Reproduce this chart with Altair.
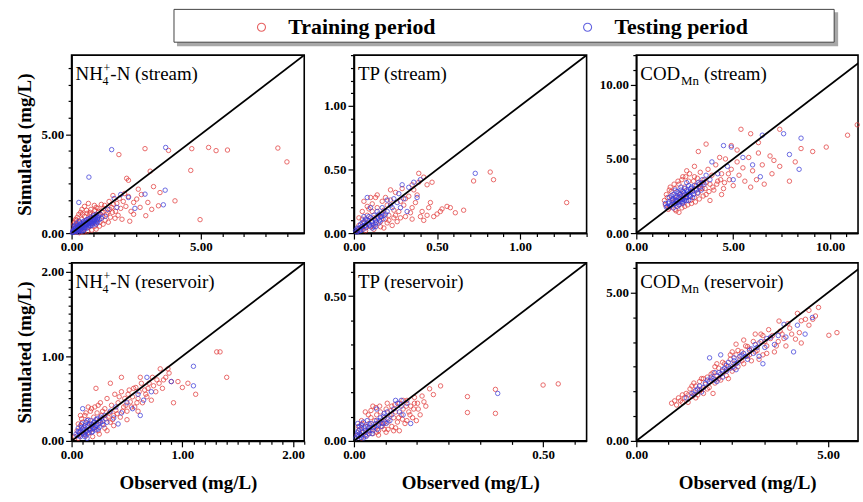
import altair as alt
import pandas as pd

FONT = "Liberation Serif"
PERIODS = ["Training period", "Testing period"]
COLORS = ["#e23b3b", "#3b3bd9"]

# ---------------- data: (observed, simulated) in mg/L ----------------
nh4_stream_train = [
    (0.05,0.10),(0.10,0.25),(0.15,0.05),(0.20,0.40),(0.25,0.15),(0.30,0.55),(0.35,0.30),(0.40,0.70),
    (0.45,0.20),(0.50,0.85),(0.55,0.45),(0.60,1.00),(0.65,0.30),(0.70,0.75),(0.75,1.20),(0.80,0.50),
    (0.85,0.95),(0.90,0.35),(0.95,1.30),(1.00,0.70),(1.05,1.10),(1.10,0.55),(1.15,1.45),(1.20,0.85),
    (1.25,1.25),(1.30,0.65),(1.40,1.05),(1.45,1.60),(1.50,0.80),(1.55,1.30),(1.60,1.90),(1.70,1.10),
    (1.75,1.50),(1.80,0.90),(1.85,1.75),(1.90,1.25),(2.00,1.60),(2.05,2.00),(2.10,1.35),(2.20,1.85),
    (2.30,1.10),(2.40,1.55),(0.12,0.55),(0.22,0.80),(0.35,1.05),(0.50,1.35),(0.18,0.65),(0.40,1.20),
    (0.65,1.50),(0.90,1.15),(1.83,3.97),(2.84,4.27),(3.75,4.18),(4.65,4.27),(5.30,4.33),(5.59,4.17),
    (6.03,4.20),(7.98,4.30),(8.33,3.60),(4.61,3.17),(3.04,3.13),(2.13,2.77),(2.20,2.67),(3.17,2.35),
    (3.42,2.05),(4.00,1.63),(3.36,1.38),(2.87,0.88),(4.97,0.68),(2.52,1.72),(2.58,2.22),(2.70,1.95),
    (2.95,1.55),(3.10,1.20),(2.65,1.30),(2.40,0.95),(1.95,0.70),(2.25,0.60),
    (0.08,0.45),(0.16,0.70),(0.28,0.95),(0.42,0.95),(0.58,1.15),(0.72,1.05),(0.88,1.40),(1.02,1.25),
    (1.18,1.05),(1.28,1.40),(1.35,0.95),(1.48,1.20),(1.62,1.45),(1.68,0.75),(1.22,0.45),(1.08,0.35),
    (0.95,0.20),(0.78,0.15),(0.62,0.10),(0.48,0.05),(0.30,0.02),(1.42,0.55),(1.58,1.05),(1.12,0.95),
    (0.70,0.95),
]
nh4_stream_test = [
    (0.05,0.05),(0.08,0.15),(0.12,0.10),(0.15,0.25),(0.18,0.08),(0.22,0.20),(0.25,0.35),(0.28,0.15),
    (0.32,0.28),(0.35,0.45),(0.38,0.22),(0.42,0.38),(0.45,0.55),(0.48,0.30),(0.52,0.48),(0.55,0.62),
    (0.58,0.40),(0.62,0.55),(0.65,0.72),(0.68,0.48),(0.72,0.62),(0.75,0.80),(0.78,0.55),(0.82,0.70),
    (0.85,0.88),(0.88,0.62),(0.92,0.78),(0.95,0.95),(1.00,0.72),(1.05,0.85),(1.10,0.95),(1.15,0.75),
    (0.10,0.35),(0.20,0.50),(0.30,0.60),(0.40,0.12),(0.50,0.20),(0.60,0.25),(0.70,0.35),(0.80,0.40),
    (0.90,0.50),(1.00,0.55),(0.15,0.40),(0.25,0.05),(0.35,0.10),(1.55,4.22),(3.64,4.33),(0.67,2.83),
    (3.62,2.17),(2.84,1.97),(3.55,1.43),(1.65,1.75),(1.40,1.20),(2.20,1.80),(1.90,1.95),(1.30,0.85),
    (1.75,1.30),(0.28,1.55),(2.45,1.25),
    (0.03,0.02),(0.06,0.12),(0.09,0.06),(0.11,0.18),(0.14,0.13),(0.17,0.30),(0.19,0.16),(0.23,0.28),
    (0.26,0.22),(0.29,0.40),(0.31,0.33),(0.34,0.18),(0.37,0.50),(0.39,0.35),(0.41,0.28),(0.44,0.45),
    (0.47,0.60),(0.49,0.40),(0.53,0.35),(0.56,0.52),(0.59,0.68),(0.61,0.45),(0.64,0.60),(0.67,0.40),
    (0.71,0.55),(0.74,0.70),(0.77,0.48),(0.81,0.62),(0.84,0.78),(0.87,0.55),(0.91,0.68),(0.94,0.85),
    (0.97,0.60),(1.02,0.80),(1.07,0.68),(0.20,0.10),(0.45,0.12),(0.55,0.28),(0.75,0.38),(0.95,0.45),
]
tp_stream_train = [
    (0.72,0.41),(0.82,0.48),(0.84,0.42),(1.28,0.24),(0.66,0.18),(0.56,0.21),(0.53,0.19),(0.50,0.15),
    (0.48,0.13),(0.45,0.20),(0.40,0.13),(0.42,0.10),(0.39,0.47),(0.38,0.30),(0.36,0.34),(0.33,0.29),
    (0.35,0.20),(0.30,0.22),(0.28,0.25),(0.27,0.17),(0.25,0.32),(0.24,0.18),(0.22,0.26),(0.21,0.14),
    (0.20,0.22),(0.19,0.11),(0.18,0.18),(0.17,0.25),(0.16,0.09),(0.15,0.14),(0.14,0.20),(0.13,0.07),
    (0.12,0.12),(0.11,0.17),(0.10,0.05),(0.09,0.10),(0.08,0.14),(0.07,0.04),(0.06,0.08),(0.05,0.11),
    (0.04,0.03),(0.03,0.06),(0.02,0.02),(0.44,0.38),(0.47,0.40),(0.31,0.13),(0.26,0.09),(0.23,0.06),
    (0.18,0.04),(0.05,0.17),(0.03,0.12),(0.09,0.19),(0.11,0.23),(0.13,0.28),(0.08,0.21),(0.21,0.10),
    (0.34,0.16),(0.29,0.35),
    (0.06,0.25),(0.10,0.28),(0.14,0.30),(0.17,0.15),(0.19,0.28),(0.22,0.34),(0.25,0.14),(0.28,0.12),
    (0.31,0.27),(0.35,0.11),(0.37,0.24),(0.41,0.17),(0.44,0.14),(0.46,0.24),(0.52,0.17),(0.58,0.20),
    (0.61,0.16),(0.35,0.38),(0.39,0.40),(0.42,0.44),(0.07,0.02),(0.12,0.03),(0.16,0.05),(0.20,0.08),
    (0.24,0.12),
]
tp_stream_test = [
    (0.73,0.47),(0.40,0.42),(0.36,0.40),(0.33,0.36),(0.29,0.38),(0.27,0.31),(0.24,0.27),(0.22,0.22),
    (0.20,0.26),(0.19,0.15),(0.17,0.20),(0.16,0.13),(0.14,0.17),(0.13,0.10),(0.12,0.14),(0.11,0.09),
    (0.10,0.12),(0.09,0.07),(0.08,0.10),(0.07,0.06),(0.06,0.09),(0.05,0.05),(0.04,0.07),(0.03,0.03),
    (0.02,0.04),(0.08,0.28),(0.10,0.20),(0.06,0.13),(0.15,0.08),(0.28,0.20),(0.32,0.17),(0.38,0.28),
    (0.30,0.27),(0.12,0.05),(0.04,0.02),(0.02,0.01),
    (0.010,0.020),(0.015,0.010),(0.025,0.035),(0.035,0.020),(0.045,0.050),(0.055,0.030),(0.065,0.060),
    (0.075,0.045),(0.085,0.080),(0.095,0.060),(0.105,0.090),(0.115,0.070),(0.125,0.110),(0.135,0.085),
    (0.145,0.120),(0.155,0.100),(0.165,0.130),(0.175,0.110),(0.050,0.080),(0.070,0.110),(0.090,0.130),
    (0.110,0.040),(0.130,0.050),(0.150,0.150),(0.180,0.140),(0.200,0.170),(0.230,0.200),(0.260,0.240),
]
cod_stream_train = [
    (1.5,1.9),(1.6,2.4),(1.7,1.7),(1.8,2.8),(1.9,2.1),(2.0,1.6),(2.0,3.0),(2.1,2.5),(2.2,1.9),(2.2,3.3),
    (2.3,2.7),(2.4,2.1),(2.5,3.1),(2.5,1.8),(2.6,2.5),(2.7,3.5),(2.8,2.2),(2.9,2.9),(3.0,3.8),(3.0,2.4),
    (3.1,3.2),(3.2,2.7),(3.3,4.1),(3.4,3.0),(3.5,3.6),(3.6,2.6),(3.7,4.3),(3.8,3.3),(3.9,3.9),(4.0,2.9),
    (4.1,4.6),(4.2,3.5),(4.4,4.0),(4.5,3.0),(4.6,5.0),(4.8,3.6),(4.9,4.3),(5.0,3.2),(5.2,4.8),(5.3,3.9),
    (5.5,4.4),(5.6,3.5),(5.8,5.1),(6.0,4.2),(6.2,3.6),(6.3,5.4),(6.5,4.6),(6.6,3.3),(6.9,5.2),(7.0,4.0),
    (7.4,4.5),(7.9,3.5),(8.2,4.8),(8.5,5.7),(9.1,5.5),(9.8,5.8),(10.9,6.6),(11.4,7.3),(5.4,7.0),(5.9,6.7),
    (7.4,7.0),(3.6,6.0),(3.2,5.5),(4.9,5.9),(5.2,5.6),(6.3,6.1),(7.1,4.9),(4.3,5.1),(2.6,4.2),(2.4,3.8),
    (3.0,4.5),(1.7,2.9),(2.2,1.4),(4.4,2.6),(5.9,3.1),(3.8,2.2),
    (1.45,2.2),(1.55,2.6),(1.65,1.6),(1.75,3.1),(1.95,3.3),(2.15,3.5),(2.35,3.6),(2.55,3.8),(2.75,4.0),
    (2.95,3.5),(3.15,3.7),(3.35,3.4),(3.55,3.0),(3.75,2.8),(3.95,3.1),(4.15,3.3),(4.35,3.6),(4.55,3.4),
    (4.75,4.0),(2.05,1.5),(2.35,1.7),(2.65,1.9),(2.85,2.0),(3.05,2.1),(3.25,2.3),(3.45,2.5),(1.85,2.3),
    (2.45,2.5),(3.3,3.0),(3.6,3.4),
]
cod_stream_test = [
    (1.6,1.8),(1.7,2.1),(1.8,1.9),(1.9,2.3),(2.0,2.0),(2.0,2.5),(2.1,2.2),(2.1,1.8),(2.2,2.4),(2.2,2.7),
    (2.3,2.1),(2.3,2.5),(2.4,2.3),(2.4,2.8),(2.5,2.6),(2.5,2.2),(2.6,2.9),(2.6,2.4),(2.7,2.7),(2.8,3.0),
    (2.8,2.5),(2.9,2.8),(3.0,3.2),(3.1,2.9),(3.2,3.4),(3.3,3.1),(3.4,3.6),(3.5,3.3),(3.6,3.9),(3.8,3.6),
    (1.5,2.0),(1.8,2.5),(2.0,2.9),(2.3,3.1),(2.6,3.4),(4.9,5.8),(4.5,5.9),(6.5,6.6),(7.6,6.7),(8.5,6.4),
    (8.4,4.3),(6.0,4.6),(5.5,5.1),(6.4,3.8),(4.7,4.5),(4.2,4.0),(3.9,4.8),(7.9,5.3),(5.0,3.6),(2.1,2.1),
    (2.4,2.0),(2.7,2.2),
    (1.55,1.75),(1.65,2.0),(1.75,1.8),(1.85,2.2),(1.95,1.95),(2.05,2.4),(2.15,2.05),(2.25,2.6),
    (2.35,2.25),(2.45,2.7),(2.55,2.35),(2.65,2.8),(2.75,2.5),(2.85,3.1),(2.95,2.6),(3.05,3.0),
    (3.15,2.7),(3.25,3.3),(3.35,2.9),(3.45,3.4),(1.7,2.4),(1.9,2.6),(2.1,2.8),(2.3,2.9),(2.5,3.0),
    (2.7,3.2),(2.2,1.9),(2.4,2.1),(2.6,2.2),(2.9,2.4),(1.9,1.7),(2.0,2.2),(2.3,2.3),(2.6,2.6),(2.8,2.8),
]
nh4_res_train = [
    (0.03,0.05),(0.05,0.12),(0.06,0.03),(0.08,0.18),(0.09,0.08),(0.10,0.22),(0.11,0.13),(0.12,0.30),
    (0.13,0.06),(0.14,0.17),(0.15,0.25),(0.16,0.10),(0.17,0.35),(0.18,0.20),(0.19,0.14),(0.20,0.28),
    (0.21,0.40),(0.22,0.18),(0.23,0.33),(0.24,0.12),(0.25,0.24),(0.26,0.45),(0.27,0.30),(0.28,0.20),
    (0.30,0.38),(0.31,0.26),(0.32,0.50),(0.34,0.33),(0.35,0.22),(0.36,0.42),(0.38,0.30),(0.39,0.55),
    (0.40,0.36),(0.42,0.45),(0.44,0.28),(0.45,0.58),(0.47,0.40),(0.48,0.50),(0.50,0.35),(0.52,0.60),
    (0.53,0.46),(0.55,0.52),(0.57,0.40),(0.58,0.63),(0.60,0.50),(0.62,0.75),(0.64,0.45),(0.66,0.60),
    (0.68,0.52),(0.70,0.68),(0.72,0.48),(0.74,0.65),(0.77,0.72),(0.80,0.85),(0.82,0.62),(0.85,0.75),
    (0.87,0.85),(0.90,0.70),(0.92,0.45),(0.96,0.70),(1.00,0.63),(1.05,0.68),(1.12,0.55),(1.31,1.05),
    (1.34,1.05),(1.40,0.75),(0.22,0.62),(0.35,0.68),(0.45,0.75),(0.30,0.15),(0.15,0.40),(0.08,0.30),
    (0.60,0.35),(0.50,0.25),
    (0.06,0.20),(0.09,0.26),(0.13,0.33),(0.18,0.38),(0.24,0.42),(0.28,0.35),(0.33,0.28),(0.37,0.25),
    (0.41,0.32),(0.43,0.52),(0.46,0.35),(0.49,0.42),(0.51,0.55),(0.54,0.40),(0.56,0.62),(0.59,0.45),
    (0.61,0.58),(0.63,0.68),(0.67,0.55),(0.69,0.62),(0.73,0.75),(0.76,0.58),(0.79,0.68),(0.83,0.72),
    (0.88,0.80),(0.19,0.05),(0.25,0.08),(0.32,0.12),(0.38,0.18),
]
nh4_res_test = [
    (0.04,0.08),(0.06,0.15),(0.07,0.06),(0.08,0.12),(0.09,0.20),(0.10,0.10),(0.11,0.16),(0.12,0.08),
    (0.13,0.22),(0.14,0.12),(0.15,0.18),(0.16,0.14),(0.17,0.24),(0.18,0.10),(0.19,0.19),(0.20,0.15),
    (0.21,0.22),(0.22,0.13),(0.23,0.26),(0.24,0.20),(0.25,0.16),(0.26,0.28),(0.28,0.23),(0.30,0.30),
    (0.32,0.22),(0.35,0.35),(0.38,0.27),(0.40,0.40),(0.45,0.33),(0.50,0.45),(0.55,0.38),(0.60,0.55),
    (0.65,0.48),(0.68,0.75),(0.72,0.58),(0.90,0.70),(1.10,0.65),(1.10,0.88),(0.10,0.38),(0.14,0.03),
    (0.62,0.30),(0.42,0.20),
    (0.05,0.06),(0.07,0.10),(0.08,0.05),(0.10,0.14),(0.11,0.08),(0.12,0.18),(0.13,0.11),(0.15,0.09),
    (0.16,0.20),(0.17,0.13),(0.18,0.17),(0.19,0.11),(0.20,0.22),(0.21,0.16),(0.22,0.25),(0.23,0.18),
    (0.24,0.14),(0.26,0.22),(0.27,0.26),(0.29,0.19),(0.09,0.16),(0.14,0.24),(0.06,0.11),(0.12,0.05),
]
tp_res_train = [
    (0.010,0.020),(0.015,0.040),(0.020,0.010),(0.025,0.030),(0.030,0.050),(0.035,0.020),(0.040,0.060),
    (0.040,0.035),(0.045,0.080),(0.050,0.045),(0.050,0.025),(0.055,0.070),(0.060,0.050),(0.060,0.090),
    (0.065,0.035),(0.070,0.065),(0.070,0.100),(0.075,0.050),(0.080,0.080),(0.080,0.040),(0.085,0.110),
    (0.090,0.065),(0.095,0.090),(0.100,0.120),(0.100,0.050),(0.105,0.080),(0.110,0.100),(0.115,0.065),
    (0.120,0.130),(0.125,0.090),(0.130,0.110),(0.135,0.060),(0.140,0.140),(0.145,0.100),(0.150,0.120),
    (0.155,0.080),(0.160,0.150),(0.170,0.110),(0.175,0.090),(0.180,0.155),(0.200,0.180),(0.229,0.190),
    (0.300,0.153),(0.300,0.098),(0.374,0.178),(0.374,0.095),(0.500,0.193),(0.540,0.197),(0.030,0.100),
    (0.020,0.070),(0.050,0.120),(0.060,0.030),(0.090,0.040),(0.110,0.045),(0.140,0.070),(0.120,0.035),
    (0.160,0.130),(0.130,0.140),
    (0.012,0.050),(0.022,0.060),(0.038,0.090),(0.045,0.105),(0.058,0.115),(0.068,0.120),(0.078,0.060),
    (0.088,0.130),(0.098,0.105),(0.108,0.125),(0.118,0.080),(0.128,0.075),(0.138,0.120),(0.148,0.090),
    (0.158,0.110),(0.168,0.130),(0.185,0.135),(0.190,0.120),(0.210,0.160),(0.165,0.070),(0.065,0.020),
    (0.085,0.030),(0.105,0.035),
]
tp_res_test = [
    (0.005,0.010),(0.010,0.030),(0.012,0.015),(0.015,0.025),(0.020,0.020),(0.020,0.045),(0.025,0.010),
    (0.030,0.035),(0.030,0.020),(0.035,0.050),(0.040,0.025),(0.040,0.045),(0.045,0.060),(0.050,0.035),
    (0.055,0.050),(0.060,0.070),(0.065,0.055),(0.070,0.080),(0.075,0.060),(0.080,0.095),(0.090,0.075),
    (0.100,0.090),(0.110,0.140),(0.115,0.130),(0.125,0.140),(0.130,0.090),(0.150,0.060),(0.380,0.164),
    (0.010,0.060),(0.015,0.050),(0.025,0.065),(0.060,0.110),(0.085,0.060),
    (0.008,0.020),(0.012,0.035),(0.018,0.012),(0.022,0.030),(0.028,0.045),(0.032,0.015),(0.038,0.035),
    (0.042,0.055),(0.048,0.025),(0.052,0.045),(0.058,0.060),(0.062,0.040),(0.068,0.070),(0.072,0.050),
    (0.078,0.085),(0.082,0.065),(0.088,0.100),(0.095,0.070),(0.105,0.110),(0.120,0.100),(0.125,0.120),
    (0.140,0.130),(0.020,0.055),(0.035,0.070),
]
cod_res_train = [
    (0.92,1.27),(1.05,1.21),(1.15,1.35),(1.25,1.45),(1.30,1.60),(1.35,1.30),(1.40,1.75),(1.45,1.50),
    (1.50,1.65),(1.55,1.85),(1.60,1.55),(1.65,2.00),(1.70,1.75),(1.75,1.60),(1.80,1.90),(1.85,2.15),
    (1.90,1.80),(1.95,2.05),(2.00,2.30),(2.05,1.95),(2.10,2.20),(2.15,2.45),(2.20,2.05),(2.25,2.35),
    (2.30,2.60),(2.35,2.20),(2.40,2.50),(2.45,2.75),(2.50,2.35),(2.55,2.60),(2.60,2.90),(2.65,2.50),
    (2.70,2.75),(2.75,3.00),(2.80,2.60),(2.90,2.85),(2.95,3.10),(3.00,2.70),(3.10,3.00),(3.20,3.30),
    (3.30,2.90),(3.40,3.20),(3.50,3.45),(3.60,3.00),(3.70,3.35),(3.72,4.04),(3.80,3.60),(3.90,3.20),
    (4.00,3.80),(4.15,3.43),(4.30,3.30),(4.41,4.10),(4.50,3.90),(4.67,4.21),(5.02,3.56),(5.23,3.65),
    (2.60,3.26),(2.90,3.18),(1.50,1.95),(2.10,2.60),(2.50,3.00),(3.30,3.55),(1.20,1.55),(2.00,1.60),
    (2.40,2.10),(3.20,2.75),(1.70,2.10),
    (1.00,1.35),(1.10,1.45),(1.20,1.30),(1.35,1.55),(1.45,1.85),(1.55,1.45),(1.65,1.70),(1.75,2.10),
    (1.85,1.75),(1.95,2.25),(2.05,2.50),(2.15,2.10),(2.25,2.65),(2.35,2.40),(2.45,2.90),(2.55,2.45),
    (2.65,3.05),(2.75,2.70),(2.85,3.20),(2.95,2.90),(3.05,3.35),(3.15,3.05),(3.25,3.60),(3.35,3.35),
    (3.45,3.75),(3.55,3.55),(3.65,3.20),(3.75,3.70),(3.85,3.45),(3.95,3.95),(4.05,3.60),(4.20,4.30),
    (4.30,4.05),(4.50,4.40),(4.60,4.10),(4.75,4.50),(3.10,3.60),(3.40,2.95),(2.80,3.40),(4.25,3.65),
]
cod_res_test = [
    (1.30,1.45),(1.50,1.55),(1.60,1.75),(1.70,1.65),(1.80,1.95),(1.90,2.00),(2.00,2.10),(2.05,2.30),
    (2.10,2.00),(2.20,2.25),(2.30,2.45),(2.35,2.35),(2.40,2.65),(2.50,2.50),(2.55,2.80),(2.60,2.60),
    (2.70,2.85),(2.80,2.95),(2.90,2.75),(3.00,3.10),(3.10,3.25),(3.20,2.85),(3.40,3.45),(3.60,3.25),
    (3.85,3.93),(3.90,3.50),(4.20,3.90),(4.59,4.16),(4.40,3.60),(1.91,2.80),(2.20,2.90),(3.30,2.60),
    (4.10,3.00),
    (1.45,1.60),(1.55,1.70),(1.65,1.85),(1.75,1.80),(1.85,2.05),(1.95,2.15),(2.05,2.05),(2.15,2.30),
    (2.25,2.40),(2.35,2.55),(2.45,2.45),(2.55,2.70),(2.65,2.65),(2.75,2.90),(2.85,2.85),(2.95,3.05),
    (3.05,2.95),(3.15,3.15),(3.25,3.35),(3.35,3.15),(3.50,3.50),(3.70,3.55),(2.25,2.15),(2.60,2.40),
]

# axis extents per panel (mg/L), major label step and minor tick step
x_max = [9, 1.4, 11.44, 2.1, 0.615, 5.78]
y_max = [9, 1.4, 12, 2.1, 0.615, 6]
major_step = [5, 0.5, 5, 1, 0.5, 5]
x_minor = [5/6, 0.1, 5/6, 0.1, 0.5/6, 5/6]
y_minor = [5/6, 0.1, 1, 0.1, 0.5/6, 5/6]

panel_texts = [
    [("NH", 4, 25, 19), ("4", 31, 30, 12), ("+", 32, 17, 12), ("-N (stream)", 39, 25, 19)],
    [("TP (stream)", 4, 25, 19)],
    [("COD", 4, 25, 19), ("Mn", 45, 30, 13), ("(stream)", 68, 25, 19)],
    [("NH", 4, 25, 19), ("4", 31, 30, 12), ("+", 32, 17, 12), ("-N (reservoir)", 39, 25, 19)],
    [("TP (reservoir)", 4, 25, 19)],
    [("COD", 4, 25, 19), ("Mn", 45, 30, 13), ("(reservoir)", 68, 25, 19)],
]

datasets = [
    (nh4_stream_train, nh4_stream_test), (tp_stream_train, tp_stream_test),
    (cod_stream_train, cod_stream_test), (nh4_res_train, nh4_res_test),
    (tp_res_train, tp_res_test), (cod_res_train, cod_res_test),
]

WIDTHS = [234, 234, 223]
HEIGHT = 179


def tick_values(maxv, step):
    out, i = [], 0
    while i * step <= maxv + 1e-9:
        out.append(round(i * step, 6))
        i += 1
    return out


def is_major(major):
    return f"abs(datum.value/{major} - round(datum.value/{major})) < 0.001"


def make_axis(maxv, minor, major, title):
    return alt.Axis(
        values=tick_values(maxv, minor),
        labelExpr=f"{is_major(major)} ? format(datum.value, '.2f') : ''",
        tickSize={"condition": {"test": is_major(major), "value": 6}, "value": 3.5},
        labelFlush=False, labelOverlap=False, labelBound=False, grid=False, title=title,
    )


legend = alt.Legend(
    title=None, orient="none", legendX=180, legendY=-39, direction="horizontal",
    symbolType="circle", symbolSize=65, symbolStrokeWidth=1.1, padding=0,
    labelFont=FONT, labelFontSize=22, labelFontWeight="bold", labelColor="black",
    labelOffset=16, columnPadding=141,
)


def panel(i):
    train, test = datasets[i]
    rows = [{"obs": o, "sim": s, "period": PERIODS[0]} for o, s in train]
    rows += [{"obs": o, "sim": s, "period": PERIODS[1]} for o, s in test]
    df = pd.DataFrame(rows)
    df["idx"] = range(len(df))
    m = max(x_max[i], y_max[i])
    line_df = pd.DataFrame({"obs": [0, m], "sim": [0, m]})
    col, row = i % 3, i // 3
    xt = "Observed (mg/L)" if row == 1 else None
    yt = "Simulated (mg/L)" if col == 0 else None
    xenc = alt.X("obs:Q", scale=alt.Scale(domain=[0, x_max[i]], nice=False, zero=False),
                 axis=make_axis(x_max[i], x_minor[i], major_step[i], xt))
    yenc = alt.Y("sim:Q", scale=alt.Scale(domain=[0, y_max[i]], nice=False, zero=False),
                 axis=make_axis(y_max[i], y_minor[i], major_step[i], yt))
    pts = alt.Chart(df).mark_point(filled=False, size=20, strokeWidth=0.95, opacity=0.8).encode(
        x=xenc, y=yenc,
        color=alt.Color("period:N", scale=alt.Scale(domain=PERIODS, range=COLORS), legend=legend),
        order=alt.Order("idx:Q"),
    )
    line = alt.Chart(line_df).mark_line(color="black", strokeWidth=1.8, clip=True).encode(
        x=xenc, y=yenc)
    layers = []
    if i == 0:
        deco = pd.DataFrame({"k": [0]})
        layers.append(alt.Chart(deco).mark_rect(fill="#a8a8a8").encode(
            x=alt.value(106), x2=alt.value(771), y=alt.value(-43), y2=alt.value(-9)))
        layers.append(alt.Chart(deco).mark_rect(fill="white", stroke="#444444", strokeWidth=1).encode(
            x=alt.value(103), x2=alt.value(767), y=alt.value(-46), y2=alt.value(-13)))
    layers += [pts, line]
    for t, dx, by, fs in panel_texts[i]:
        layers.append(
            alt.Chart(pd.DataFrame({"t": [t]})).mark_text(
                align="left", baseline="alphabetic", font=FONT, fontSize=fs, color="black"
            ).encode(text="t:N", x=alt.value(dx), y=alt.value(by))
        )
    return alt.layer(*layers).properties(width=WIDTHS[col], height=HEIGHT)


chart = alt.concat(
    *[panel(i) for i in range(6)], columns=3,
    spacing={"row": 30, "column": 50}, bounds="flush",
).properties(
    padding={"left": 14, "top": 6, "right": 0, "bottom": 2}, background="white"
).configure_view(
    stroke="black", strokeWidth=1.6
).configure_axis(
    domainColor="black", domainWidth=1.6, tickColor="black", tickWidth=1.2,
    labelFont=FONT, labelFontSize=13, labelFontWeight="bold", labelColor="black", labelPadding=2,
    labelOverlap=False,
    titleFont=FONT, titleFontSize=19, titleFontWeight="bold", titleColor="black",
).configure_axisX(titlePadding=12).configure_axisY(titlePadding=7)

chart.save("out.html", embed_options={"renderer": "svg", "actions": False})
